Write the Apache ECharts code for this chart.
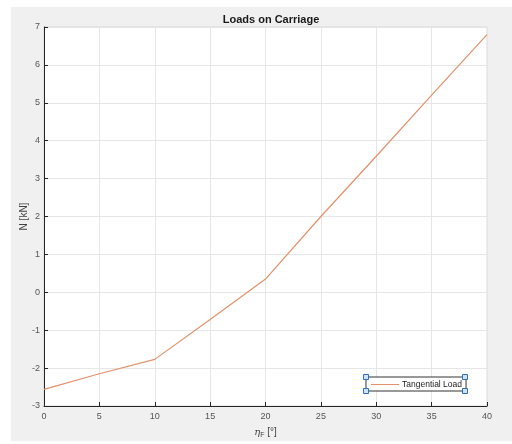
<!DOCTYPE html>
<html>
<head>
<meta charset="utf-8">
<script src="https://cdn.jsdelivr.net/npm/echarts@6/dist/echarts.min.js"></script>
<style>html,body{margin:0;padding:0;background:#fff;}#c{width:512px;height:444px;}</style>
</head>
<body>
<div id="c"></div>
<script>
var xValues = [0, 5, 10, 15, 20, 25, 30, 35, 40];
var tangentialLoad = [-2.56, -2.15, -1.77, -0.72, 0.35, 2.0, 3.59, 5.2, 6.8];
var xTicks = [0, 5, 10, 15, 20, 25, 30, 35, 40];
var yTicks = [-3, -2, -1, 0, 1, 2, 3, 4, 5, 6, 7];
var seriesName = 'Tangential Load';

var chart = echarts.init(document.getElementById('c'));
var axisColor = '#262626';
var labelColor = '#555';
var data = xValues.map(function (x, i) { return [x, tangentialLoad[i]]; });

function handle(cx, cy) {
  return { type: 'rect', z: 100, shape: { x: cx - 2.5, y: cy - 2.5, width: 5, height: 5 }, style: { fill: '#cfe3f7', stroke: '#2f6fb5', lineWidth: 1 } };
}

chart.setOption({
  animation: false,
  backgroundColor: '#ffffff',
  graphic: [
    { type: 'rect', z: -10, shape: { x: 11, y: 7, width: 501, height: 434 }, style: { fill: '#f0f0f0' } },
    handle(366, 377), handle(465, 377), handle(366, 391), handle(465, 391)
  ],
  title: {
    text: 'Loads on Carriage',
    left: 266, top: 9, textAlign: 'center',
    textStyle: { fontFamily: 'Liberation Sans, Arial, sans-serif', fontSize: 11, fontWeight: 'bold', color: '#1a1a1a' }
  },
  legend: {
    data: [seriesName],
    left: 366, top: 377,
    orient: 'vertical',
    backgroundColor: '#ffffff',
    borderColor: '#333',
    borderWidth: 1,
    padding: [3, 4, 2, 5],
    itemWidth: 28, itemHeight: 8, itemGap: 2,
    icon: 'path://M0,4L28,4L28,5L0,5Z',
    textStyle: { fontFamily: 'Liberation Sans, Arial, sans-serif', fontSize: 8.5, color: '#222', padding: [0, 0, 0, -2] }
  },
  grid: { left: 44, right: 25, top: 27, bottom: 35, show: true, backgroundColor: '#ffffff', borderColor: '#d9d9d9', borderWidth: 1 },
  xAxis: {
    type: 'value', min: 0, max: 40, interval: 5,
    name: '{i|η}{s|F} [°]', nameLocation: 'middle', nameGap: 20,
    nameTextStyle: {
      fontFamily: 'Liberation Sans, Arial, sans-serif', fontSize: 10, color: '#444',
      rich: {
        i: { fontStyle: 'italic', fontFamily: 'DejaVu Serif, serif', fontSize: 10, color: '#444' },
        s: { fontSize: 7, color: '#444', verticalAlign: 'bottom', padding: [6, 0, 0, 0] }
      }
    },
    axisLine: { onZero: false, lineStyle: { color: axisColor, width: 1 } },
    axisTick: { inside: true, length: 4, lineStyle: { color: axisColor } },
    axisLabel: { color: labelColor, fontFamily: 'Liberation Sans, Arial, sans-serif', fontSize: 9, margin: 6,
      formatter: function (v) { return xTicks.indexOf(v) >= 0 ? String(v) : ''; } },
    splitLine: { show: true, lineStyle: { color: '#e6e6e6', width: 1 } }
  },
  yAxis: {
    type: 'value', min: -3, max: 7, interval: 1,
    name: 'N [kN]', nameLocation: 'middle', nameGap: 15, nameRotate: 90, nameMoveOverlap: false,
    nameTextStyle: { fontFamily: 'Liberation Sans, Arial, sans-serif', fontSize: 10, color: '#444' },
    axisLine: { show: true, onZero: false, lineStyle: { color: axisColor, width: 1 } },
    axisTick: { show: true, inside: true, length: 4, lineStyle: { color: axisColor } },
    axisLabel: { color: labelColor, fontFamily: 'Liberation Sans, Arial, sans-serif', fontSize: 9, margin: 4,
      formatter: function (v) { return yTicks.indexOf(v) >= 0 ? String(v) : ''; } },
    splitLine: { show: true, lineStyle: { color: '#e6e6e6', width: 1 } }
  },
  series: [{
    name: seriesName,
    type: 'line',
    data: data,
    showSymbol: false,
    symbol: 'none',
    color: '#e3916a',
    lineStyle: { color: '#e3916a', width: 1.2 }
  }]
});
</script>
</body>
</html>
